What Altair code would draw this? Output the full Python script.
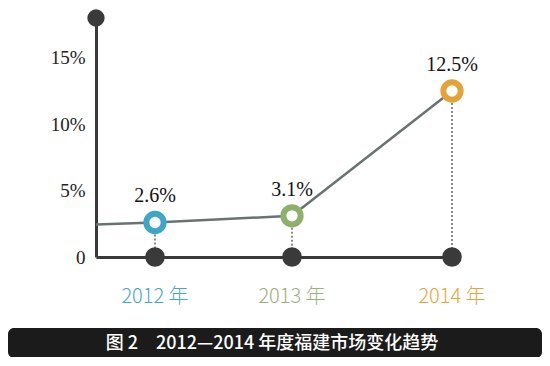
import altair as alt
import pandas as pd

# ---- data ----
years = [2012, 2013, 2014]
categories = ["2012 年", "2013 年", "2014 年"]
values = [2.6, 3.1, 12.5]
value_labels = ["2.6%", "3.1%", "12.5%"]
start_value = 2.45         # where the line enters at the y axis
y_ticks = [0, 5, 10, 15]
y_max = 18.0
x_min = 2011.57
ring_colors = ["#3ea7c7", "#8db06b", "#e2a338"]
label_colors = ["#4aa6c6", "#9ab27a", "#e6a53a"]
caption = "图 2　2012—2014 年度福建市场变化趋势"

pts = pd.DataFrame({"year": years, "cat": categories, "v": values,
                    "lab": value_labels, "zero": [0] * 3})
line_df = pd.DataFrame({"year": [x_min] + years, "v": [start_value] + values})
top_df = pd.DataFrame({"year": [x_min], "v": [y_max]})

xs = alt.Scale(domain=[x_min, 2012, 2013, 2014, 2014.02],
               range=[0, 59, 196, 356, 359])
ys = alt.Scale(domain=[0, y_max], nice=False)
X = alt.X("year:Q", scale=xs,
          axis=alt.Axis(domainColor="#3a3a3a", domainWidth=3, ticks=False,
                        labels=False, grid=False, title=None))
Y = alt.Y("v:Q", scale=ys,
          axis=alt.Axis(values=y_ticks, domainColor="#3a3a3a", domainWidth=3,
                        ticks=False, grid=False, title=None,
                        labelFont="Liberation Serif", labelFontSize=19,
                        labelColor="#222222", labelPadding=11,
                        labelExpr="datum.value == 0 ? '0' : datum.value + '%'"))
cscale = alt.Scale(domain=categories, range=ring_colors)

rules = alt.Chart(pts).mark_rule(color="#8a8a8a", strokeWidth=2,
                                 strokeDash=[2, 2]).encode(x=X, y=Y, y2="zero:Q")
line = alt.Chart(line_df).mark_line(color="#6a7272", strokeWidth=2.5).encode(x=X, y=Y)
base_dots = alt.Chart(pts).mark_circle(color="#3a3a3a", opacity=1, size=380).encode(
    x=X, y="zero:Q")
top_dot = alt.Chart(top_df).mark_circle(color="#3a3a3a", opacity=1, size=300).encode(x=X, y=Y)
rings = alt.Chart(pts).mark_point(filled=False, fill="white", fillOpacity=1, opacity=1,
                                  size=300, strokeWidth=6, shape="circle").encode(
    x=X, y=Y, stroke=alt.Stroke("cat:N", scale=cscale, legend=None))
vlabels = alt.Chart(pts).mark_text(font="Liberation Serif", fontSize=20, color="#111111",
                                   dy=-26, baseline="middle").encode(x=X, y=Y, text="lab:N")
clabels = alt.Chart(pts).mark_text(font="Noto Sans CJK SC", fontSize=20, fontWeight=300,
                                   baseline="middle").encode(
    x=X, y=alt.value(279), text="cat:N",
    color=alt.Color("cat:N", scale=alt.Scale(domain=categories, range=label_colors),
                    legend=None))
banner = alt.Chart(top_df).mark_rect(color="#1b1b1b", cornerRadius=6).encode(
    x=alt.value(-88), x2=alt.value(446), y=alt.value(310), y2=alt.value(340))
banner_text = alt.Chart(top_df).mark_text(font="Noto Sans CJK SC", fontSize=18,
                                          fontWeight=500, color="white",
                                          baseline="middle").encode(
    x=alt.value(176), y=alt.value(326), text=alt.value(caption))

chart = alt.layer(rules, line, base_dots, top_dot, rings, vlabels, clabels,
                  banner, banner_text).properties(
    width=359, height=239,
    autosize=alt.AutoSizeParams(type="none"),
    padding={"left": 88, "top": 10, "right": 87, "bottom": 100},
    background="white",
).configure_view(stroke=None)

chart.save("out.html", embed_options={"renderer": "svg", "actions": False})
